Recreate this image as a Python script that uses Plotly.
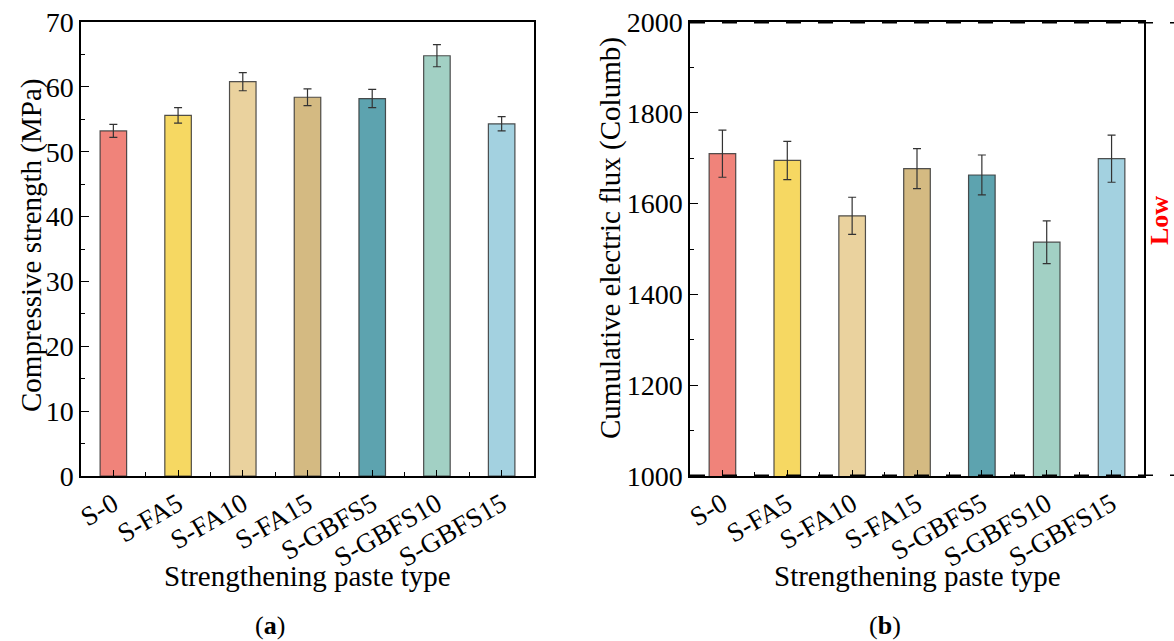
import plotly.graph_objects as go
from plotly.subplots import make_subplots

categories = ["S-0", "S-FA5", "S-FA10", "S-FA15", "S-GBFS5", "S-GBFS10", "S-GBFS15"]
strength = [53.2, 55.6, 60.8, 58.4, 58.2, 64.8, 54.3]
strength_err = [1.0, 1.2, 1.4, 1.3, 1.4, 1.7, 1.1]
flux = [1710, 1695, 1573, 1677, 1663, 1515, 1699]
flux_err = [52, 42, 41, 44, 44, 47, 52]
colors = ["#F0837A", "#F6D862", "#EAD29E", "#D4BA82", "#5DA3AF", "#A2D0C4", "#A3D1E0"]

FONT = "Liberation Serif, Times New Roman, serif"
W, H = 1174, 641
xpos = list(range(len(categories)))

fig = make_subplots(rows=1, cols=2)

for col, vals, errs in [(1, strength, strength_err), (2, flux, flux_err)]:
    fig.add_trace(go.Bar(
        x=xpos, y=vals, width=0.41,
        marker=dict(color=colors, line=dict(color="rgba(50,50,50,0.85)", width=1.2)),
        error_y=dict(type="data", array=errs, color="#333", thickness=1.2, width=4),
        showlegend=False), row=1, col=col)

ydom = [1 - 476 / H, 1 - 22 / H]
common_x = dict(
    tickmode="array", tickvals=xpos, ticktext=categories, tickangle=-30,
    range=[-0.5, len(categories) - 0.5],
    showline=True, linecolor="black", linewidth=1.5, mirror=True,
    ticks="inside", ticklen=6, tickwidth=1.2, tickcolor="black",
    minor=dict(ticks="inside", ticklen=4, tickwidth=1.2, tickcolor="black", tick0=0.5, dtick=1),
    tickfont=dict(family=FONT, size=27, color="black"),
    showgrid=False, zeroline=False, automargin=False,
)
common_y = dict(
    showline=True, linecolor="black", linewidth=1.5, mirror=True,
    ticks="inside", ticklen=8, tickwidth=1.2, tickcolor="black",
    tickfont=dict(family=FONT, size=28, color="black"),
    showgrid=False, zeroline=False, automargin=False,
)

L1, R1 = 81, 534
L2, R2 = 690, 1144
fig.update_xaxes(domain=[L1 / W, R1 / W], **common_x, row=1, col=1)
fig.update_xaxes(domain=[L2 / W, R2 / W], **common_x, row=1, col=2)
fig.update_yaxes(domain=ydom, range=[0, 70], dtick=10,
                 minor=dict(ticks="inside", ticklen=4, tickwidth=1.2, tickcolor="black", dtick=5),
                 **common_y, row=1, col=1)
fig.update_yaxes(domain=ydom, range=[1000, 2000], dtick=200,
                 minor=dict(ticks="inside", ticklen=4, tickwidth=1.2, tickcolor="black", dtick=100),
                 **common_y, row=1, col=2)

# dashed level lines on the right panel
for lvl in [2000, 1000]:
    fig.add_shape(type="line", xref="paper", yref="y2",
                  x0=L2 / W, x1=1.0, y0=lvl, y1=lvl,
                  line=dict(color="black", width=3, dash="15px,17px"), layer="above")

title_font = dict(family=FONT, size=29, color="black")
# axis titles
fig.add_annotation(text="Strengthening paste type", xref="paper", yref="paper",
                   x=(L1 + R1) / 2 / W, y=1 - 576 / H, showarrow=False,
                   xanchor="center", yanchor="middle", font=title_font)
fig.add_annotation(text="Strengthening paste type", xref="paper", yref="paper",
                   x=(L2 + R2) / 2 / W, y=1 - 576 / H, showarrow=False,
                   xanchor="center", yanchor="middle", font=title_font)
fig.add_annotation(text="Compressive strength (MPa)", xref="paper", yref="paper",
                   x=31 / W, y=1 - 246 / H, textangle=-90, showarrow=False,
                   xanchor="center", yanchor="middle", font=title_font)
fig.add_annotation(text="Cumulative electric flux (Columb)", xref="paper", yref="paper",
                   x=611 / W, y=1 - 238 / H, textangle=-90, showarrow=False,
                   xanchor="center", yanchor="middle", font=title_font)

fig.add_annotation(text="<b>Low</b>", xref="paper", yref="paper",
                   x=1159 / W, y=1 - 221 / H, textangle=-90, showarrow=False,
                   xanchor="center", yanchor="middle",
                   font=dict(family=FONT, size=26, color="red"))
fig.add_annotation(text="(<b>a</b>)", xref="paper", yref="paper",
                   x=270 / W, y=1 - 625 / H, showarrow=False,
                   xanchor="center", yanchor="middle",
                   font=dict(family=FONT, size=26, color="black"))
fig.add_annotation(text="(<b>b</b>)", xref="paper", yref="paper",
                   x=885 / W, y=1 - 625 / H, showarrow=False,
                   xanchor="center", yanchor="middle",
                   font=dict(family=FONT, size=26, color="black"))

fig.update_layout(width=W, height=H, margin=dict(l=0, r=0, t=0, b=0),
                  plot_bgcolor="white", paper_bgcolor="white")

fig.write_html("out.html")
